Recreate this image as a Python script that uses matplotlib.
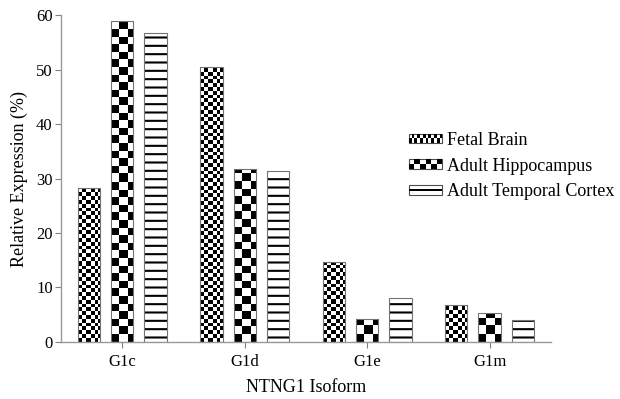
import numpy as np
import matplotlib
matplotlib.use("Agg")
import matplotlib.pyplot as plt
from matplotlib.patches import Rectangle
from matplotlib.legend_handler import HandlerBase

plt.rcParams['font.family'] = ['Liberation Serif', 'DejaVu Serif']
plt.rcParams['hatch.linewidth'] = 1.5

isoforms = ['G1c', 'G1d', 'G1e', 'G1m']
fetal_brain = [28.2, 50.5, 14.6, 6.7]
adult_hippocampus = [58.9, 31.7, 4.1, 5.2]
adult_temporal = [56.7, 31.3, 8.0, 4.0]
series_names = ['Fetal Brain', 'Adult Hippocampus', 'Adult Temporal Cortex']

fig = plt.figure(figsize=(6.2, 3.99), dpi=100)
ax = fig.add_axes([0.0984, 0.1436, 0.790, 0.818])
ax.set_xlim(-0.5, 3.5)
ax.set_ylim(0, 60)

x = np.arange(len(isoforms))
width = 0.182
gap = 0.272
edge = '0.45'


def add_checker(ax, bar, sq):
    # checkerboard image filling the bar, square size sq in pixels
    x0, y0 = bar.get_x(), bar.get_y()
    w, h = bar.get_width(), bar.get_height()
    (px0, py0), (px1, py1) = ax.transData.transform([(x0, y0), (x0 + w, y0 + h)])
    nx = max(int(round(px1 - px0)), 1)
    ny = max(int(round(py1 - py0)), 1)
    cols = (np.arange(nx) // sq).astype(int)
    rows = (np.arange(ny) // sq).astype(int)
    arr = np.add.outer(rows, cols) % 2
    ax.imshow(arr, cmap='gray', extent=(x0, x0 + w, y0, y0 + h), origin='lower',
              interpolation='nearest', aspect='auto', zorder=1)


b1 = ax.bar(x - gap, fetal_brain, width, facecolor='none', edgecolor=edge, lw=0.8, zorder=2)
b2 = ax.bar(x, adult_hippocampus, width, facecolor='none', edgecolor=edge, lw=0.8, zorder=2)
b3 = ax.bar(x + gap, adult_temporal, width, facecolor='white', edgecolor='black', hatch='--', lw=0, zorder=1)
ax.bar(x + gap, adult_temporal, width, facecolor='none', edgecolor=edge, lw=0.8, zorder=2)

for bar in b1:
    add_checker(ax, bar, 3.8)
for bar in b2:
    add_checker(ax, bar, 7.6)

ax.set_xlim(-0.5, 3.5)
ax.set_ylim(0, 60)

for s in ['top', 'right']:
    ax.spines[s].set_visible(False)
for s in ['left', 'bottom']:
    ax.spines[s].set_color('0.6')
    ax.spines[s].set_linewidth(1.0)

ax.set_yticks(np.arange(0, 61, 10))
ax.set_xticks(x)
ax.set_xticklabels(isoforms)
ax.tick_params(axis='both', colors='0.5', labelcolor='black', labelsize=12, length=4, width=0.8)
ax.tick_params(axis='x', pad=5)
ax.tick_params(axis='y', pad=2)
ax.set_xlabel('NTNG1 Isoform', fontsize=13, labelpad=6)
ax.set_ylabel('Relative Expression (%)', fontsize=13, labelpad=6)


class PatternHandler(HandlerBase):
    def __init__(self, kind, ncols=0, nrows=0):
        super().__init__()
        self.kind = kind
        self.ncols = ncols
        self.nrows = nrows

    def create_artists(self, legend, orig_handle, xdescent, ydescent,
                       width, height, fontsize, trans):
        x0, y0 = -xdescent, -ydescent
        arts = [Rectangle((x0, y0), width, height, fc='white', ec='0.3', lw=0.8, transform=trans)]
        if self.kind == 'checker':
            cw = width / self.ncols
            ch = height / self.nrows
            for r in range(self.nrows):
                for c in range(self.ncols):
                    if (r + c) % 2 == 0:
                        arts.append(Rectangle((x0 + c * cw, y0 + r * ch), cw, ch,
                                              fc='black', ec='none', transform=trans))
        else:
            arts.append(Rectangle((x0, y0 + height * 0.4), width, height * 0.2,
                                  fc='black', ec='none', transform=trans))
        return arts


handles = [b1, b2, b3]
leg = fig.legend(handles, series_names, loc='upper left', bbox_to_anchor=(0.645, 0.692),
                 frameon=False, fontsize=13, handlelength=1.85, handleheight=0.45,
                 handletextpad=0.25, labelspacing=0.48, borderpad=0,
                 handler_map={b1: PatternHandler('checker', 12, 2),
                              b2: PatternHandler('checker', 6, 2),
                              b3: PatternHandler('lines')})

plt.savefig('out.png', dpi=100)
